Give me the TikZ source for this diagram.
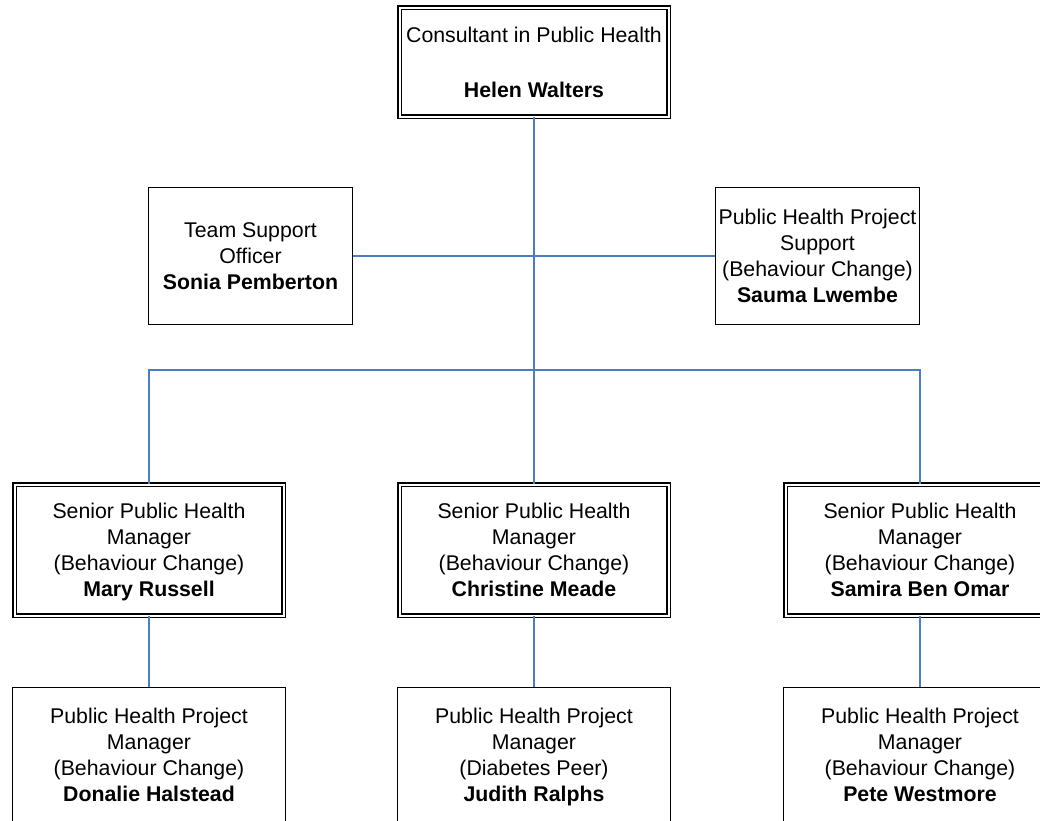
\documentclass[tikz,border=0pt]{standalone}
\usepackage{fontspec}
\setmainfont{Liberation Sans}
\definecolor{linkblue}{RGB}{74,126,193}
\tikzset{
  box/.style={draw=black, line width=1.7pt, rectangle, inner sep=0pt, align=center,
    font=\fontsize{21.3}{26}\selectfont},
  dbox/.style={box, line width=1.5pt, double=white, double distance=2pt},
  conn/.style={draw=linkblue, line width=2pt},
}
\newcommand{\nodepth}[1]{\raisebox{0pt}[\height][0pt]{#1}}
\begin{document}
\begin{tikzpicture}[x=1pt,y=-1pt]
\useasboundingbox (0,0) rectangle (1040,820);
\clip (0,0) rectangle (1040,820);
% top
\node[dbox, minimum width=269pt, minimum height=109pt] (top) at (534,62)
  {Consultant in Public Health\\[29pt]\textbf{Helen Walters}};
% second row
\node[box, minimum width=204pt, minimum height=137pt] (team) at (250.5,256)
  {Team Support\\Officer\\\textbf{Sonia Pemberton}};
\node[box, minimum width=204pt, minimum height=137pt] (supp) at (817.5,256)
  {Public Health Project\\Support\\(Behaviour Change)\\\textbf{Sauma Lwembe}};
% third row
\node[dbox, minimum width=269pt, minimum height=131pt] (l3) at (149,550)
  {Senior Public Health\\Manager\\(Behaviour Change)\\\nodepth{\textbf{Mary Russell}}};
\node[dbox, minimum width=269pt, minimum height=131pt] (m3) at (534,550)
  {Senior Public Health\\Manager\\(Behaviour Change)\\\textbf{Christine Meade}};
\node[dbox, minimum width=269pt, minimum height=131pt] (r3) at (920,550)
  {Senior Public Health\\Manager\\(Behaviour Change)\\\textbf{Samira Ben Omar}};
% fourth row
\node[box, minimum width=273pt, minimum height=135pt] (l4) at (149,755)
  {Public Health Project\\Manager\\(Behaviour Change)\\\textbf{Donalie Halstead}};
\node[box, minimum width=273pt, minimum height=135pt] (m4) at (534,755)
  {Public Health Project\\Manager\\(Diabetes Peer)\\\nodepth{\textbf{Judith Ralphs}}};
\node[box, minimum width=273pt, minimum height=135pt] (r4) at (920,755)
  {Public Health Project\\Manager\\(Behaviour Change)\\\textbf{Pete Westmore}};
% connectors
\coordinate (bus) at (534,370);
\draw[conn] (team.east) -- (supp.west);
\draw[conn] (top.south) -- (m3.north);
\draw[conn] (l3.north) -- (l3.north |- bus) -- (r3.north |- bus) -- (r3.north);
\draw[conn] (l3.south) -- (l4.north);
\draw[conn] (m3.south) -- (m4.north);
\draw[conn] (r3.south) -- (r4.north);
\end{tikzpicture}
\end{document}
